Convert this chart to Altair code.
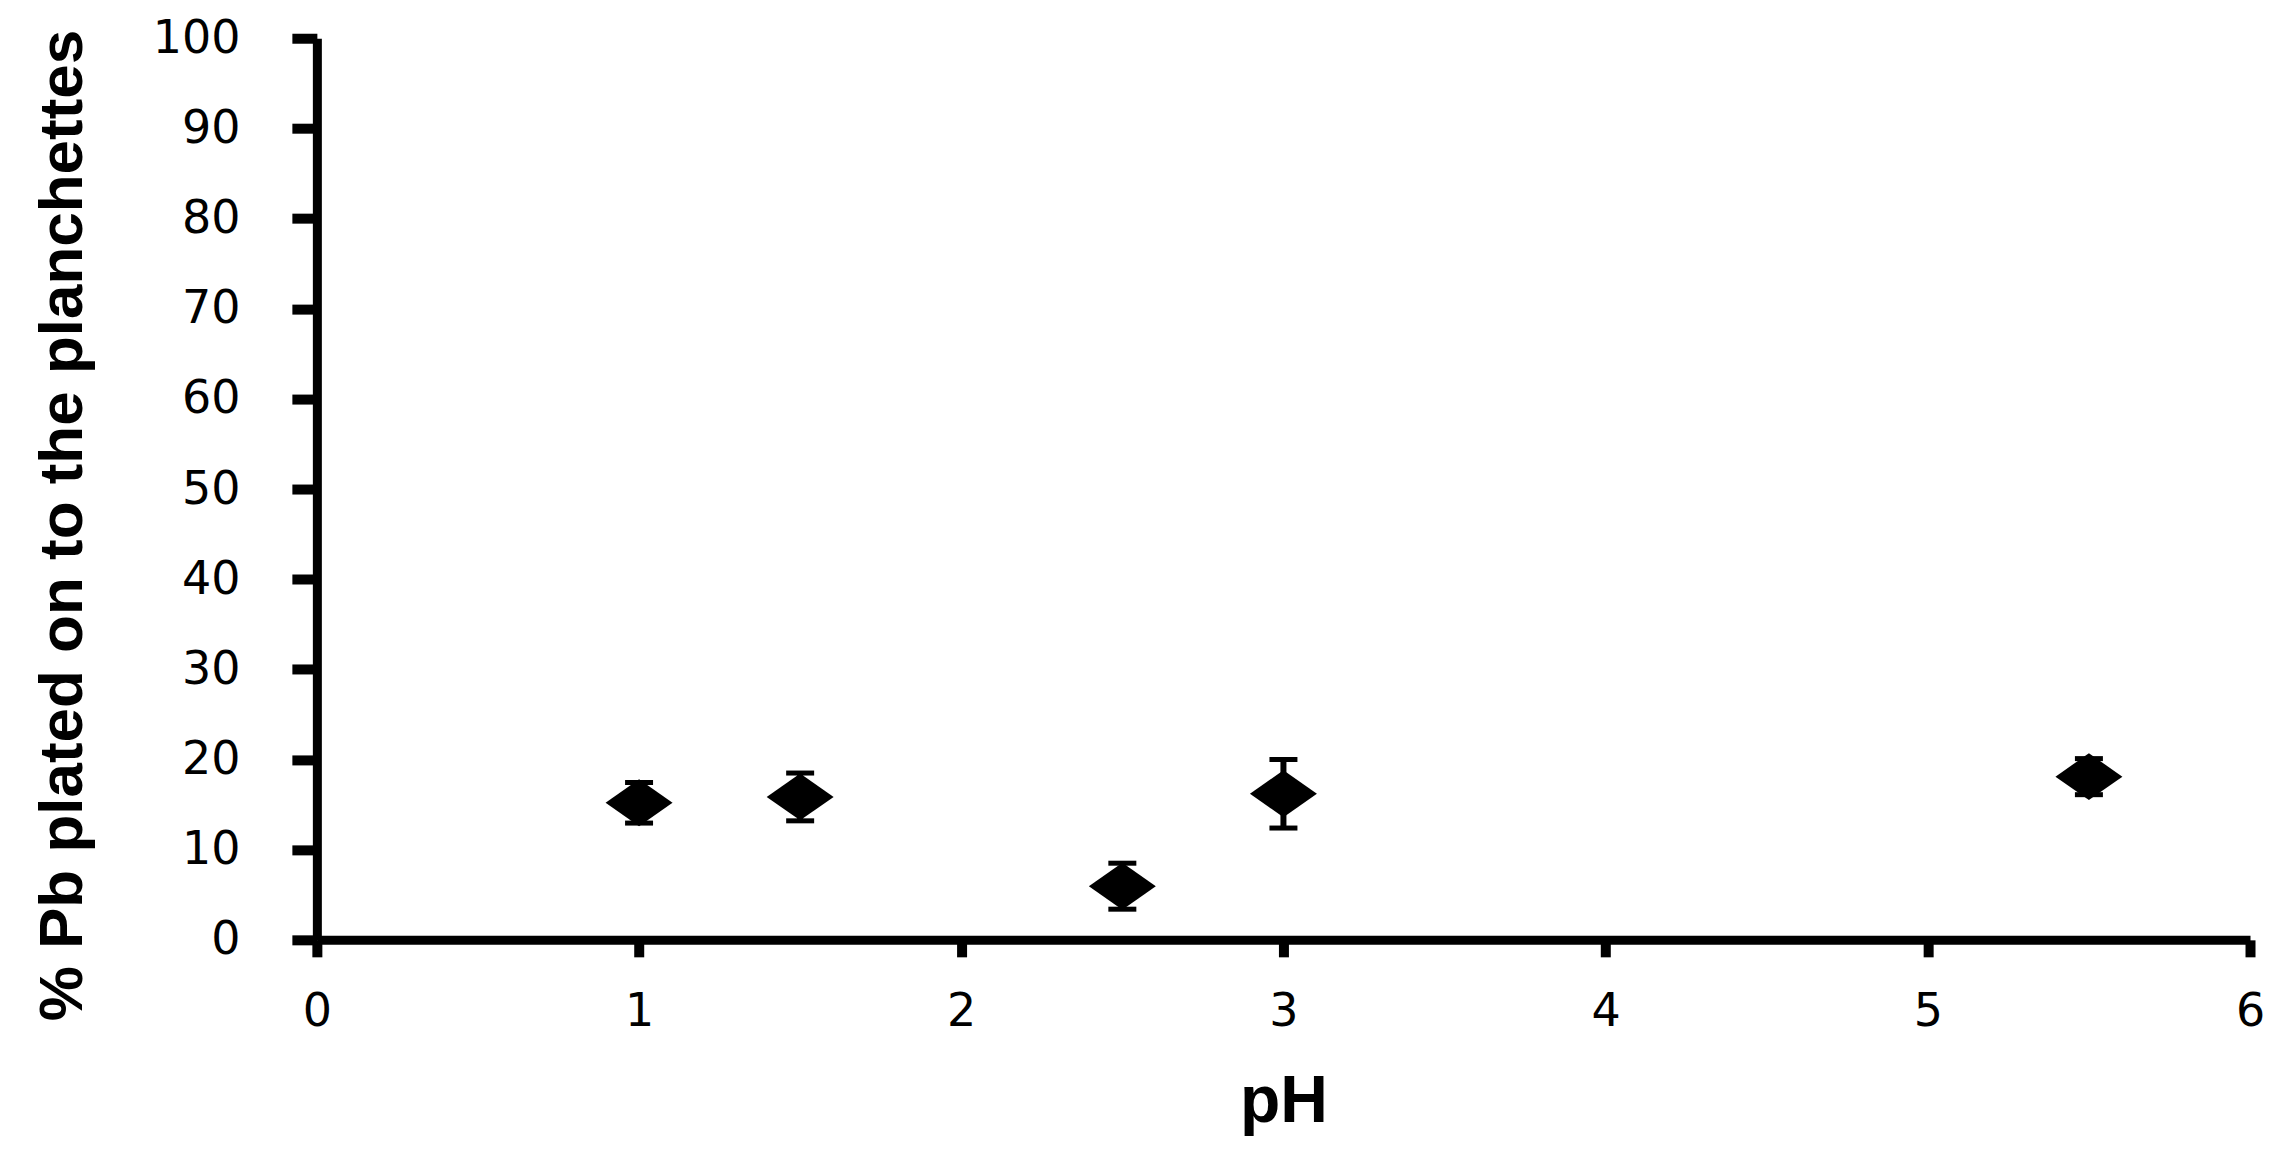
import altair as alt
import pandas as pd

ph = [1.0, 1.5, 2.5, 3.0, 5.5]
pct = [15.2, 15.85, 5.95, 16.2, 18.1]
err = [2.25, 2.65, 2.55, 3.8, 2.0]

x_ticks = [0, 1, 2, 3, 4, 5, 6]
y_ticks = [0, 10, 20, 30, 40, 50, 60, 70, 80, 90, 100]

df = pd.DataFrame({"pH": ph, "pct": pct, "err": err})
df["lo"] = df["pct"] - df["err"]
df["hi"] = df["pct"] + df["err"]

xs = alt.Scale(domain=[0, 6], nice=False, zero=False)
ys = alt.Scale(domain=[0, 100], nice=False)

x_axis = alt.Axis(
    values=x_ticks, format="d", title="pH", grid=False,
    domainColor="black", domainWidth=9, tickColor="black", tickWidth=10, tickSize=17,
    labelFont="DejaVu Sans", labelFontSize=46, labelColor="black", labelPadding=33,
    labelBaseline="top", labelFlush=False,
    titleFont="Liberation Sans", titleFontSize=66, titleFontWeight="bold", titleColor="black",
    titleX=967, titleY=182, titleBaseline="alphabetic", titleAlign="center",
)
y_axis = alt.Axis(
    values=y_ticks, format="d", title="% Pb plated on to the planchettes", grid=False,
    domainColor="black", domainWidth=9, tickColor="black", tickWidth=10, tickSize=25,
    labelFont="DejaVu Sans", labelFontSize=46, labelColor="black", labelPadding=52,
    labelFlush=False,
    titleFont="Liberation Sans", titleFontSize=62, titleFontWeight="bold", titleColor="black",
    titleAngle=270, titleX=-235, titleY=487, titleBaseline="alphabetic", titleAlign="center",
)

base = alt.Chart(df)

stems = base.mark_rule(color="black", strokeWidth=6, opacity=1).encode(
    x=alt.X("pH:Q", scale=xs, axis=x_axis),
    y=alt.Y("lo:Q", scale=ys, axis=y_axis),
    y2="hi:Q",
)
caps_hi = base.mark_tick(color="black", orient="horizontal", thickness=5, size=28, opacity=1).encode(
    x=alt.X("pH:Q", scale=xs), y=alt.Y("hi:Q", scale=ys)
)
caps_lo = base.mark_tick(color="black", orient="horizontal", thickness=5, size=28, opacity=1).encode(
    x=alt.X("pH:Q", scale=xs), y=alt.Y("lo:Q", scale=ys)
)
points = base.mark_point(
    shape="M-1,0L0,-0.7L1,0L0,0.7Z", filled=True, color="black", opacity=1, size=4489
).encode(
    x=alt.X("pH:Q", scale=xs), y=alt.Y("pct:Q", scale=ys)
)

chart = alt.layer(stems, caps_hi, caps_lo, points).properties(
    width=1934, height=902,
    autosize=alt.AutoSizeParams(type="none"),
    padding={"left": 309, "top": 30, "right": 20, "bottom": 200},
).configure(background="white").configure_view(stroke=None)

chart.save("out.html", embed_options={"renderer": "svg", "actions": False})
